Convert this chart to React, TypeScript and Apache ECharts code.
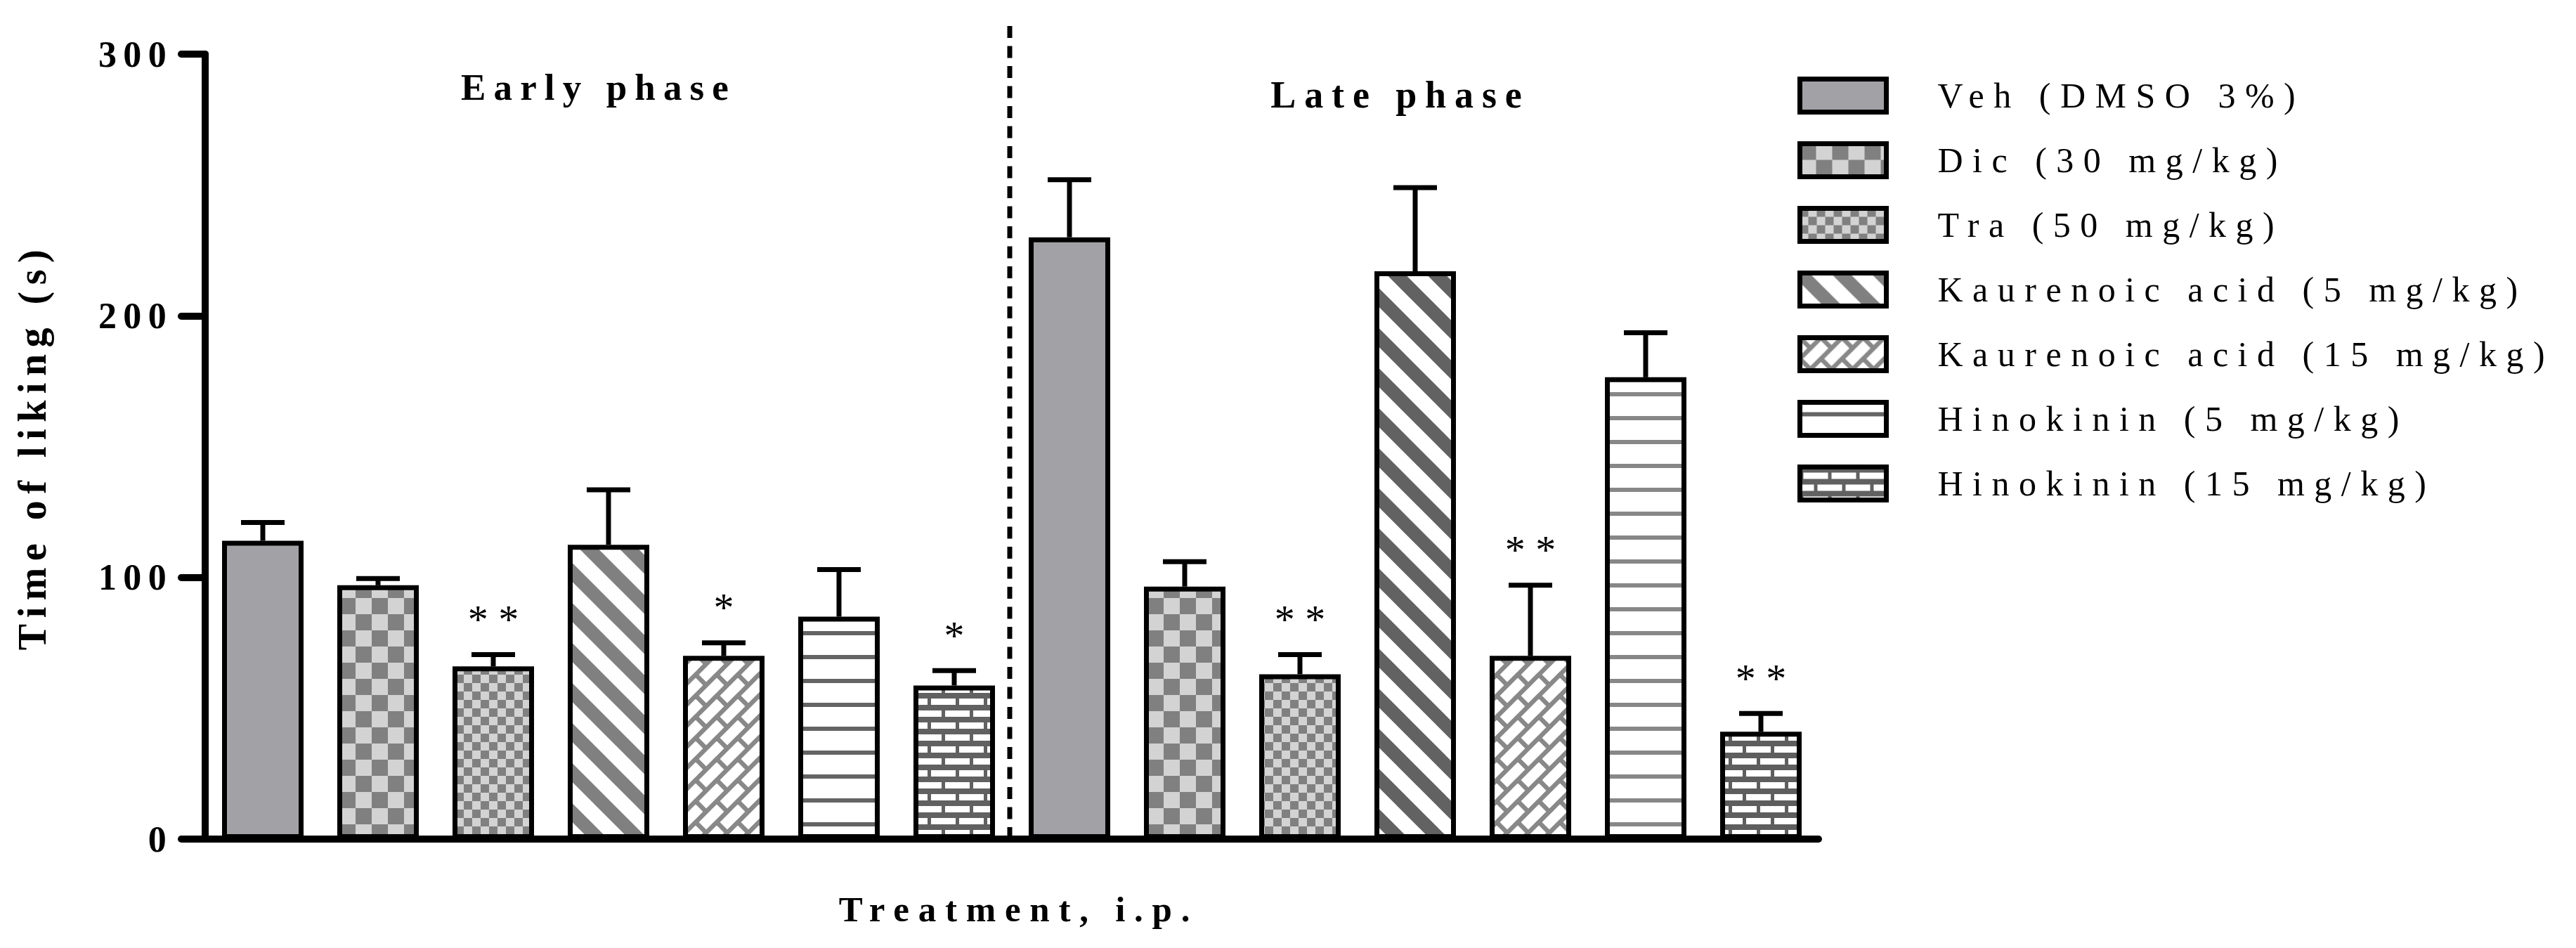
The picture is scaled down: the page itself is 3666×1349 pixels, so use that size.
import React, { useEffect, useRef } from 'react';
import * as echarts from 'echarts';

// ---------- data ----------
const treatments = [
  'Veh (DMSO 3%)',
  'Dic (30 mg/kg)',
  'Tra (50 mg/kg)',
  'Kaurenoic acid (5 mg/kg)',
  'Kaurenoic acid (15 mg/kg)',
  'Hinokinin (5 mg/kg)',
  'Hinokinin (15 mg/kg)',
];
const phases = ['Early phase', 'Late phase'];
const earlyMeans = [114, 97, 66, 112.5, 70, 85, 58.7];
const earlySem = [7, 2.6, 4.5, 21, 5, 18, 5.7];
const lateMeans = [230, 96.5, 63, 217, 70, 176.5, 41];
const lateSem = [22, 9.5, 7.5, 32, 27, 17, 7];
const earlyStars = ['', '', '* *', '', '*', '', '*'];
const lateStars = ['', '', '* *', '', '* *', '', '* *'];
const yMin = 0;
const yMax = 300;
const yInterval = 100;
const separatorTop = 312; // top of the dashed phase separator, in axis units

const FONT = 'Liberation Serif';

type Pat = { image: HTMLCanvasElement; repeat: string; imageWidth: number; imageHeight: number };

function makePattern(w: number, h: number, draw: (ctx: CanvasRenderingContext2D) => void): Pat {
  const c = document.createElement('canvas');
  c.width = w;
  c.height = h;
  const ctx = c.getContext('2d') as CanvasRenderingContext2D;
  draw(ctx);
  return { image: c, repeat: 'repeat', imageWidth: w, imageHeight: h };
}

function checker(cell: number, dark: string, light: string) {
  return makePattern(cell * 2, cell * 2, (ctx) => {
    ctx.fillStyle = light;
    ctx.fillRect(0, 0, cell * 2, cell * 2);
    ctx.fillStyle = dark;
    ctx.fillRect(0, 0, cell, cell);
    ctx.fillRect(cell, cell, cell, cell);
  });
}

function stripes(color: string) {
  const P = 57;
  return makePattern(P, P, (ctx) => {
    ctx.fillStyle = '#fff';
    ctx.fillRect(0, 0, P, P);
    ctx.strokeStyle = color;
    ctx.lineWidth = 19;
    for (let k = -2; k <= 2; k++) {
      ctx.beginPath();
      ctx.moveTo(-30, P * k - 30);
      ctx.lineTo(P + 30, P * k + P + 30);
      ctx.stroke();
    }
  });
}

function diagBrick(color: string) {
  const T = 30;
  const L = T * Math.SQRT2;
  const H = L / 2;
  return makePattern(T, T, (ctx) => {
    ctx.fillStyle = '#fff';
    ctx.fillRect(0, 0, T, T);
    ctx.strokeStyle = color;
    ctx.lineWidth = 6.5;
    ctx.save();
    ctx.rotate(-Math.PI / 4);
    for (let j = -3; j <= 5; j++) {
      ctx.beginPath();
      ctx.moveTo(-120, j * H);
      ctx.lineTo(120, j * H);
      ctx.stroke();
      const odd = ((j % 2) + 2) % 2;
      for (let i = -4; i <= 4; i++) {
        const s = i * L + odd * (L / 2);
        ctx.beginPath();
        ctx.moveTo(s, j * H);
        ctx.lineTo(s, (j + 1) * H);
        ctx.stroke();
      }
    }
    ctx.restore();
  });
}

function hLines(color: string) {
  return makePattern(8, 34, (ctx) => {
    ctx.fillStyle = '#fff';
    ctx.fillRect(0, 0, 8, 34);
    ctx.fillStyle = color;
    ctx.fillRect(0, 14, 8, 6);
  });
}

function brick(color: string) {
  return makePattern(40, 34, (ctx) => {
    ctx.fillStyle = '#fff';
    ctx.fillRect(0, 0, 40, 34);
    ctx.fillStyle = color;
    ctx.fillRect(0, 0, 40, 8);
    ctx.fillRect(0, 17, 40, 8);
    ctx.fillRect(0, 8, 5, 9);
    ctx.fillRect(20, 25, 5, 9);
  });
}

export default function App() {
  const ref = useRef<HTMLDivElement>(null);

  useEffect(() => {
    document.body.style.margin = '0';
    if (!ref.current) return;
    const chart = echarts.init(ref.current, undefined, { renderer: 'svg' });

    const earlyFill: any[] = [
      '#a2a1a6',
      checker(23, '#808080', '#d3d3d3'),
      checker(12, '#808080', '#d3d3d3'),
      stripes('#808080'),
      diagBrick('#888888'),
      hLines('#646464'),
      brick('#616161'),
    ];
    const lateFill: any[] = [
      '#a2a1a6',
      checker(23, '#808080', '#d3d3d3'),
      checker(12, '#808080', '#d3d3d3'),
      stripes('#626262'),
      diagBrick('#888888'),
      hLines('#878787'),
      brick('#5e5e5e'),
    ];

    const categories = phases.flatMap((p) => treatments.map((t) => `${p}: ${t}`));
    const n = treatments.length;

    const barSeries = treatments.map((name, i) => ({
      name,
      type: 'bar',
      barWidth: 116,
      barGap: '-100%',
      emphasis: { disabled: true },
      itemStyle: { color: earlyFill[i], borderColor: '#000', borderWidth: 7 },
      data: categories.map((_, c) => {
        if (c === i) return earlyMeans[i];
        if (c === i + n) return { value: lateMeans[i], itemStyle: { color: lateFill[i] } };
        return '-';
      }),
    }));

    const errData = [
      ...earlyMeans.map((m, i) => [i, m, m + earlySem[i]]),
      ...lateMeans.map((m, i) => [i + n, m, m + lateSem[i]]),
    ];
    const stars = [...earlyStars, ...lateStars];

    const option: any = {
      animation: false,
      backgroundColor: '#ffffff',
      grid: { left: 292, top: 77, width: 2296, height: 1117, containLabel: false, outerBoundsMode: 'none' },
      xAxis: {
        type: 'category',
        data: categories,
        boundaryGap: true,
        axisLine: { show: true, lineStyle: { color: '#000', width: 10, cap: 'round' } },
        axisTick: { show: false },
        axisLabel: { show: false },
        splitLine: { show: false },
        name: 'Treatment, i.p.',
        nameLocation: 'middle',
        nameGap: 74,
        nameTextStyle: { fontFamily: FONT, fontSize: 51, fontWeight: 'bold', color: '#000', padding: [0, 0, 0, 20] },
      },
      yAxis: {
        type: 'value',
        min: yMin,
        max: yMax,
        interval: yInterval,
        axisLine: { show: true, lineStyle: { color: '#000', width: 10, cap: 'round' } },
        axisTick: { show: true, length: 34, lineStyle: { color: '#000', width: 10, cap: 'round' } },
        axisLabel: { margin: 46, fontFamily: FONT, fontSize: 52, fontWeight: 'bold', color: '#000', padding: [16, 0, 0, 0] },
        splitLine: { show: false },
        name: 'Time of liking (s)',
        nameLocation: 'middle',
        nameGap: 218,
        nameTextStyle: { fontFamily: FONT, fontSize: 56, fontWeight: 'bold', color: '#000' },
      },
      legend: {
        orient: 'vertical',
        left: 2558,
        top: 109,
        padding: 0,
        icon: 'rect',
        itemWidth: 123,
        itemHeight: 47,
        itemGap: 38,
        selectedMode: false,
        data: treatments,
        itemStyle: { borderColor: '#000', borderWidth: 7 },
        textStyle: { fontFamily: FONT, fontSize: 50, color: '#000', lineHeight: 47, padding: [0, 0, 0, 68] },
      },
      graphic: [
        {
          type: 'text',
          x: 852,
          y: 124,
          style: {
            text: phases[0],
            font: `bold 53px ${FONT}`,
            fill: '#000',
            textAlign: 'center',
            textVerticalAlign: 'middle',
          },
        },
        {
          type: 'text',
          x: 1993,
          y: 135,
          style: {
            text: phases[1],
            font: `bold 54px ${FONT}`,
            fill: '#000',
            textAlign: 'center',
            textVerticalAlign: 'middle',
          },
        },
      ],
      series: [
        ...barSeries,
        {
          type: 'custom',
          name: 'sem',
          z: 5,
          data: errData,
          encode: { x: 0, y: [1, 2] },
          renderItem: (params: any, api: any) => {
            const c = api.value(0);
            const m = api.value(1);
            const t = api.value(2);
            const p0 = api.coord([c, m]);
            const p1 = api.coord([c, t]);
            const children: any[] = [
              { type: 'line', shape: { x1: p0[0], y1: p0[1], x2: p1[0], y2: p1[1] }, style: { stroke: '#000', lineWidth: 7 } },
              { type: 'line', shape: { x1: p1[0] - 31, y1: p1[1], x2: p1[0] + 31, y2: p1[1] }, style: { stroke: '#000', lineWidth: 7 } },
            ];
            const s = stars[params.dataIndex];
            if (s) {
              children.push({
                type: 'text',
                style: {
                  text: s,
                  x: p1[0],
                  y: p1[1] - 50,
                  textAlign: 'center',
                  textVerticalAlign: 'middle',
                  font: `58px ${FONT}`,
                  fill: '#000',
                },
              });
            }
            return { type: 'group', children };
          },
        },
        {
          type: 'custom',
          name: 'separator',
          z: 4,
          data: [[n - 1, yMin, separatorTop]],
          encode: { x: 0, y: [1, 2] },
          renderItem: (params: any, api: any) => {
            const a = api.coord([api.value(0), api.value(1)]);
            const b = api.coord([api.value(0), api.value(2)]);
            const half = api.size([1, 0])[0] / 2;
            const x = a[0] + half - 3;
            return {
              type: 'line',
              shape: { x1: x, y1: a[1], x2: x, y2: b[1] },
              style: { stroke: '#000', lineWidth: 7, lineDash: [17, 11.5] },
            };
          },
        },
      ],
    };

    chart.setOption(option);
    return () => chart.dispose();
  }, []);

  const css = `
    #chart text[style*="52px"] { letter-spacing: 0.18em; }
    #chart text[style*="56px"] { letter-spacing: 0.17em; }
    #chart text[style*="51px"] { letter-spacing: 0.25em; }
    #chart text[style*="53px"] { letter-spacing: 0.21em; }
    #chart text[style*="54px"] { letter-spacing: 0.22em; }
    #chart text[style*="50px"] { letter-spacing: 0.27em; }
  `;

  return (
    <>
      <style>{css}</style>
      <div
        id="chart"
        ref={ref}
        style={{ position: 'fixed', left: 0, top: 0, width: 3666, height: 1349, background: '#fff' }}
      />
    </>
  );
}
